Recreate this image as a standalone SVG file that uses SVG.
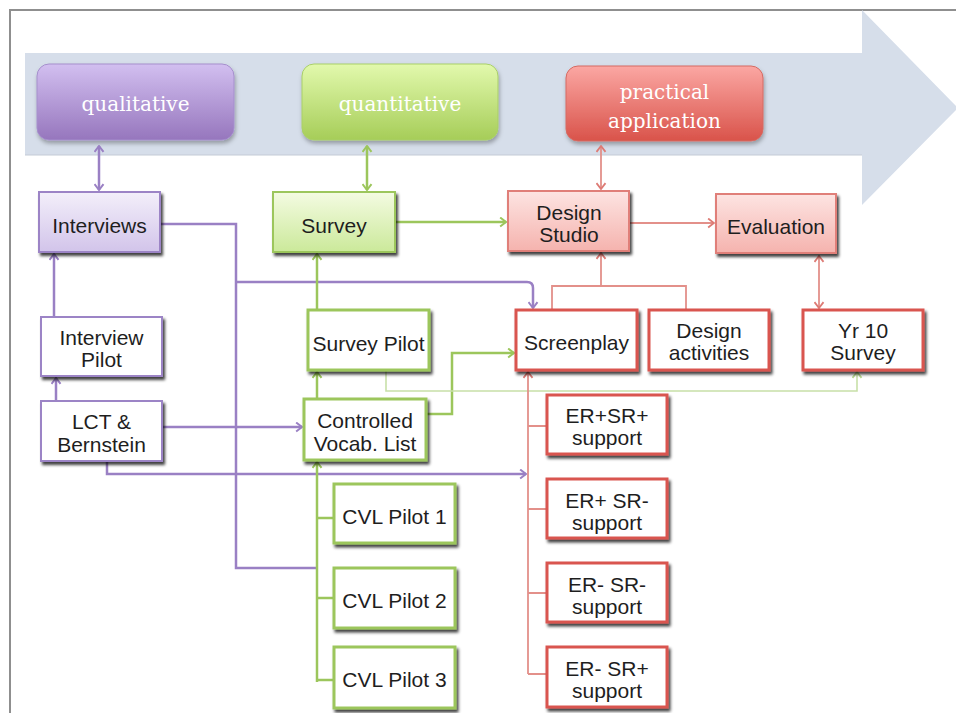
<svg xmlns="http://www.w3.org/2000/svg" width="956" height="713" viewBox="0 0 956 713">
  <style>
    .lbl { font-family: "Liberation Sans", Arial, sans-serif; font-size: 21px; fill: #1e1e1e; text-anchor: middle; }
    .cat { font-family: "DejaVu Serif", "Liberation Serif", serif; font-size: 20px; fill: #ffffff; text-anchor: middle; }
    .box { filter: url(#shadow); }
    .pu { stroke: #9c84c6; stroke-width: 2; }
    .gr { stroke: #9cc65c; stroke-width: 3; }
    .rd { stroke: #d9554f; stroke-width: 3; }
    .wire { fill: none; stroke-linejoin: miter; }
    .wpu { stroke: #9a80c4; stroke-width: 2.5; }
    .wgr { stroke: #9cc65c; stroke-width: 2.5; }
    .wgl { stroke: #c8e0a8; stroke-width: 1.6; }
    .wrd { stroke: #e3908a; stroke-width: 1.8; }
  </style>
  <defs>
    <filter id="shadow" x="-10%" y="-10%" width="130%" height="140%">
      <feDropShadow dx="2" dy="3" stdDeviation="1.4" flood-color="#000" flood-opacity="0.75"/>
    </filter>
    <filter id="soft" x="-10%" y="-10%" width="130%" height="140%">
      <feDropShadow dx="1" dy="3" stdDeviation="2" flood-color="#000" flood-opacity="0.3"/>
    </filter>
    <linearGradient id="gQual" x1="0" y1="0" x2="0" y2="1">
      <stop offset="0" stop-color="#d2bff0"/>
      <stop offset="1" stop-color="#9676bd"/>
    </linearGradient>
    <linearGradient id="gQuan" x1="0" y1="0" x2="0" y2="1">
      <stop offset="0" stop-color="#e2f9ad"/>
      <stop offset="1" stop-color="#a6cd58"/>
    </linearGradient>
    <linearGradient id="gPrac" x1="0" y1="0" x2="0" y2="1">
      <stop offset="0" stop-color="#fba7a3"/>
      <stop offset="1" stop-color="#d9534a"/>
    </linearGradient>
    <linearGradient id="gPuL" x1="0" y1="0" x2="0" y2="1">
      <stop offset="0" stop-color="#f3effa"/>
      <stop offset="1" stop-color="#d2c4ea"/>
    </linearGradient>
    <linearGradient id="gGrL" x1="0" y1="0" x2="0" y2="1">
      <stop offset="0" stop-color="#f4fbe2"/>
      <stop offset="1" stop-color="#cbe99a"/>
    </linearGradient>
    <linearGradient id="gRdL" x1="0" y1="0" x2="0" y2="1">
      <stop offset="0" stop-color="#fde4e2"/>
      <stop offset="1" stop-color="#f5b3ae"/>
    </linearGradient>
    <marker id="aPu" viewBox="0 0 10 12" refX="8.5" refY="6" markerWidth="9" markerHeight="11" markerUnits="userSpaceOnUse" orient="auto-start-reverse">
      <path d="M2,1 L8.5,6 L2,11" fill="none" stroke="#9a80c4" stroke-width="2.2"/>
    </marker>
    <marker id="aGr" viewBox="0 0 10 12" refX="8.5" refY="6" markerWidth="9" markerHeight="11" markerUnits="userSpaceOnUse" orient="auto-start-reverse">
      <path d="M2,1 L8.5,6 L2,11" fill="none" stroke="#9cc65c" stroke-width="2.2"/>
    </marker>
    <marker id="aGl" viewBox="0 0 10 12" refX="8.5" refY="6" markerWidth="9" markerHeight="11" markerUnits="userSpaceOnUse" orient="auto-start-reverse">
      <path d="M2,1 L8.5,6 L2,11" fill="none" stroke="#b9d890" stroke-width="2"/>
    </marker>
    <marker id="aRd" viewBox="0 0 10 12" refX="8.5" refY="6" markerWidth="9" markerHeight="11" markerUnits="userSpaceOnUse" orient="auto-start-reverse">
      <path d="M2,1 L8.5,6 L2,11" fill="none" stroke="#dd7a74" stroke-width="2"/>
    </marker>
  </defs>

  <rect width="956" height="713" fill="#ffffff"/>
  <!-- page frame -->
  <path d="M10,713 V10 H956" fill="none" stroke="#8f8f8f" stroke-width="2"/>

  <!-- timeline band arrow -->
  <polygon points="25,53 862,53 862,10 958,108 862,205 862,155 25,155" fill="#d6deea"/>
  <line x1="25" y1="155" x2="862" y2="155" stroke="#c4cbd6" stroke-width="1"/>

  <!-- category boxes -->
  <g id="qualitative">
    <rect x="37" y="64" width="197" height="76" rx="12" fill="url(#gQual)" stroke="#a58fcc" stroke-width="1" filter="url(#soft)"/>
    <text class="cat" x="135.5" y="111">qualitative</text>
  </g>
  <g id="quantitative">
    <rect x="302" y="64" width="196" height="76" rx="12" fill="url(#gQuan)" stroke="#a9cf69" stroke-width="1" filter="url(#soft)"/>
    <text class="cat" x="400" y="111">quantitative</text>
  </g>
  <g id="practical">
    <rect x="566" y="66" width="197" height="75" rx="12" fill="url(#gPrac)" stroke="#d56a62" stroke-width="1" filter="url(#soft)"/>
    <text class="cat" x="664.5" y="99">practical</text>
    <text class="cat" x="664.5" y="128">application</text>
  </g>

  <!-- connectors -->
  <g id="connectors">
    <!-- category links -->
    <path class="wire wpu" d="M99,146 V190" marker-start="url(#aPu)" marker-end="url(#aPu)"/>
    <path class="wire wgr" d="M367,146 V190" marker-start="url(#aGr)" marker-end="url(#aGr)"/>
    <path class="wire wrd" d="M601,146 V189" marker-start="url(#aRd)" marker-end="url(#aRd)"/>

    <!-- purple (qualitative) -->
    <path class="wire wpu" d="M160,224 H236 V568 H317"/>
    <path class="wire wpu" d="M236,282 H527 Q533,282 533,288 V308" marker-end="url(#aPu)"/>
    <path class="wire wpu" d="M54,317 V254" marker-end="url(#aPu)"/>
    <path class="wire wpu" d="M56,401 V378" marker-end="url(#aPu)"/>
    <path class="wire wpu" d="M162,427 H302" marker-end="url(#aPu)"/>
    <path class="wire wpu" d="M107,461 V474 H526" marker-end="url(#aPu)"/>

    <!-- green (quantitative) -->
    <path class="wire wgr" d="M395,222 H506" marker-end="url(#aGr)"/>
    <path class="wire wgr" d="M317,310 V254" marker-end="url(#aGr)"/>
    <path class="wire wgr" d="M317,399 V372" marker-end="url(#aGr)"/>
    <path class="wire wgr" d="M426,414 H452 V353 H514" marker-end="url(#aGr)"/>
    <path class="wire wgl" d="M386,370 V391 H857 V372" marker-end="url(#aGl)"/>
    <path class="wire wgr" d="M317,682 V462" marker-end="url(#aGr)"/>
    <path class="wire wgr" d="M317,518 H334 M317,598 H334 M317,680 H334"/>

    <!-- red (practical application) -->
    <path class="wire wrd" d="M629,223 H714" marker-end="url(#aRd)"/>
    <path class="wire wrd" d="M552,310 V286 H686 V310"/>
    <path class="wire wrd" d="M601,286 V253" marker-end="url(#aRd)"/>
    <path class="wire wrd" d="M819,256 V308" marker-start="url(#aRd)" marker-end="url(#aRd)"/>
    <path class="wire wrd" d="M528,674 V372" marker-end="url(#aRd)"/>
    <path class="wire wrd" d="M528,426 H547 M528,509 H547 M528,593 H547 M528,674 H547"/>
  </g>

  <!-- purple nodes -->
  <g id="interviews">
    <rect class="box pu" x="39" y="192" width="121" height="60" fill="url(#gPuL)"/>
    <text class="lbl" x="99.5" y="233">Interviews</text>
  </g>
  <g id="interview-pilot">
    <rect class="box pu" x="41" y="317" width="121" height="59" fill="#ffffff"/>
    <text class="lbl" x="101.5" y="345">Interview</text>
    <text class="lbl" x="101.5" y="367">Pilot</text>
  </g>
  <g id="lct-bernstein">
    <rect class="box pu" x="41" y="401" width="121" height="60" fill="#ffffff"/>
    <text class="lbl" x="101.5" y="429">LCT &amp;</text>
    <text class="lbl" x="101.5" y="452">Bernstein</text>
  </g>

  <!-- green nodes -->
  <g id="survey">
    <rect class="box" x="273" y="192" width="122" height="60" fill="url(#gGrL)" stroke="#9cc65c" stroke-width="2"/>
    <text class="lbl" x="334" y="233">Survey</text>
  </g>
  <g id="survey-pilot">
    <rect class="box gr" x="308" y="310" width="121" height="60" fill="#ffffff"/>
    <text class="lbl" x="368.5" y="351">Survey Pilot</text>
  </g>
  <g id="controlled-vocab">
    <rect class="box gr" x="304" y="399" width="122" height="61" fill="#ffffff"/>
    <text class="lbl" x="365" y="428">Controlled</text>
    <text class="lbl" x="365" y="451">Vocab. List</text>
  </g>
  <g id="cvl-pilot-1">
    <rect class="box gr" x="334" y="484" width="121" height="59" fill="#ffffff"/>
    <text class="lbl" x="394.5" y="524">CVL Pilot 1</text>
  </g>
  <g id="cvl-pilot-2">
    <rect class="box gr" x="334" y="568" width="121" height="60" fill="#ffffff"/>
    <text class="lbl" x="394.5" y="608">CVL Pilot 2</text>
  </g>
  <g id="cvl-pilot-3">
    <rect class="box gr" x="334" y="647" width="121" height="61" fill="#ffffff"/>
    <text class="lbl" x="394.5" y="687">CVL Pilot 3</text>
  </g>

  <!-- red nodes -->
  <g id="design-studio">
    <rect class="box" x="508" y="191" width="121" height="60" fill="url(#gRdL)" stroke="#e07f79" stroke-width="2"/>
    <text class="lbl" x="569" y="220">Design</text>
    <text class="lbl" x="569" y="242">Studio</text>
  </g>
  <g id="evaluation">
    <rect class="box" x="716" y="194" width="120" height="59" fill="url(#gRdL)" stroke="#e07f79" stroke-width="2"/>
    <text class="lbl" x="776" y="234">Evaluation</text>
  </g>
  <g id="screenplay">
    <rect class="box rd" x="516" y="310" width="121" height="60" fill="#ffffff"/>
    <text class="lbl" x="576.5" y="350">Screenplay</text>
  </g>
  <g id="design-activities">
    <rect class="box rd" x="649" y="310" width="120" height="60" fill="#ffffff"/>
    <text class="lbl" x="709" y="338">Design</text>
    <text class="lbl" x="709" y="360">activities</text>
  </g>
  <g id="yr10-survey">
    <rect class="box rd" x="803" y="310" width="120" height="60" fill="#ffffff"/>
    <text class="lbl" x="863" y="338">Yr 10</text>
    <text class="lbl" x="863" y="360">Survey</text>
  </g>
  <g id="er-pos-sr-pos">
    <rect class="box rd" x="547" y="395" width="120" height="59" fill="#ffffff"/>
    <text class="lbl" x="607" y="423">ER+SR+</text>
    <text class="lbl" x="607" y="445">support</text>
  </g>
  <g id="er-pos-sr-neg">
    <rect class="box rd" x="547" y="479" width="120" height="59" fill="#ffffff"/>
    <text class="lbl" x="607" y="508">ER+ SR-</text>
    <text class="lbl" x="607" y="530">support</text>
  </g>
  <g id="er-neg-sr-neg">
    <rect class="box rd" x="547" y="563" width="120" height="59" fill="#ffffff"/>
    <text class="lbl" x="607" y="592">ER- SR-</text>
    <text class="lbl" x="607" y="614">support</text>
  </g>
  <g id="er-neg-sr-pos">
    <rect class="box rd" x="547" y="647" width="120" height="60" fill="#ffffff"/>
    <text class="lbl" x="607" y="676">ER- SR+</text>
    <text class="lbl" x="607" y="698">support</text>
  </g>
</svg>
